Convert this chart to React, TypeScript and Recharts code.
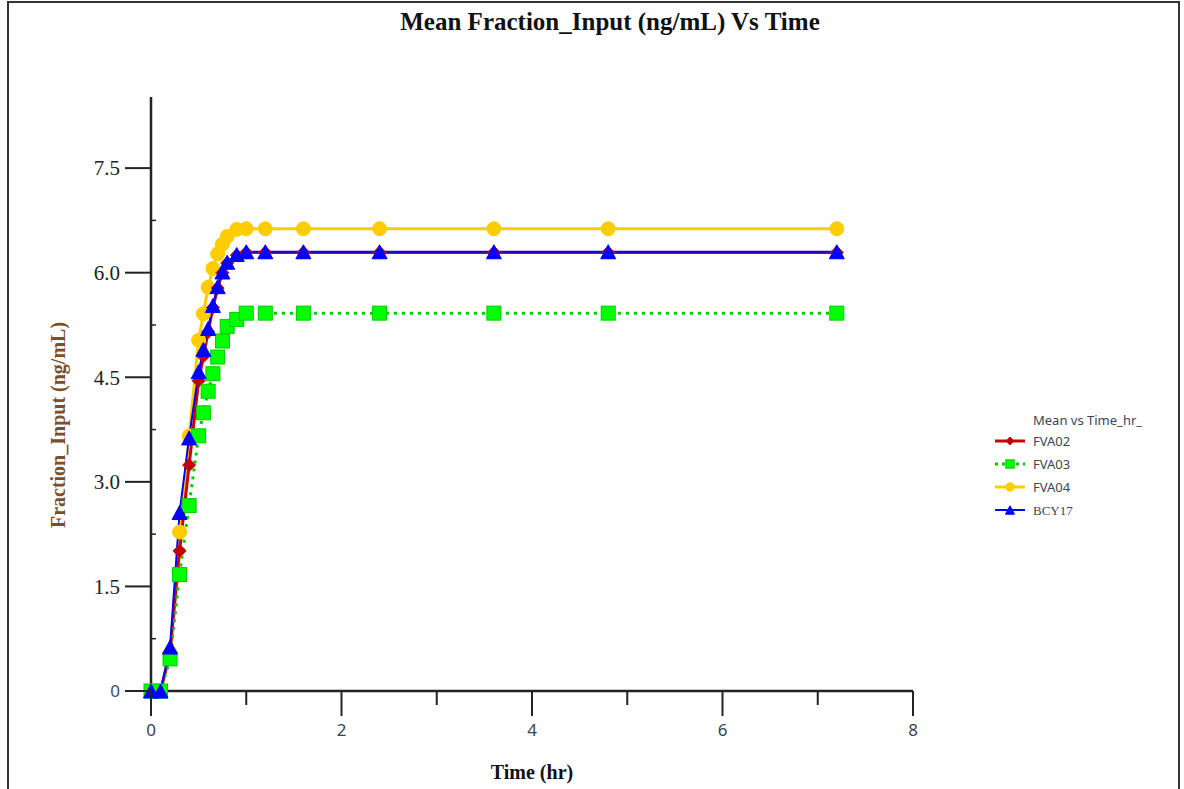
import React from 'react';
import { LineChart, Line, XAxis, YAxis, Legend } from 'recharts';

const times = [0, 0.1, 0.2, 0.3, 0.4, 0.5, 0.55, 0.6, 0.65, 0.7, 0.75, 0.8, 0.9, 1.0, 1.2, 1.6, 2.4, 3.6, 4.8, 7.2];
const fva02 = [0, 0, 0.55, 2.01, 3.24, 4.45, 4.8, 5.15, 5.5, 5.78, 6.0, 6.14, 6.25, 6.29, 6.29, 6.29, 6.29, 6.29, 6.29, 6.29];
const fva03 = [0, 0, 0.46, 1.67, 2.66, 3.66, 3.99, 4.3, 4.55, 4.79, 5.02, 5.23, 5.33, 5.42, 5.42, 5.42, 5.42, 5.42, 5.42, 5.42];
const fva04 = [0, 0, 0.54, 2.28, 3.66, 5.03, 5.41, 5.79, 6.06, 6.27, 6.41, 6.52, 6.62, 6.63, 6.63, 6.63, 6.63, 6.63, 6.63, 6.63];
const bcy17 = [0, 0, 0.63, 2.56, 3.63, 4.58, 4.9, 5.2, 5.53, 5.8, 6.01, 6.15, 6.26, 6.3, 6.3, 6.3, 6.3, 6.3, 6.3, 6.3];

const xTicks = [0, 1, 2, 3, 4, 5, 6, 7, 8];
const xMajorLabels = ['0', '', '2', '', '4', '', '6', '', '8'];
const yTicks = [0, 0.75, 1.5, 2.25, 3, 3.75, 4.5, 5.25, 6, 6.75, 7.5];
const yTickLabels = ['0', '', '1.5', '', '3.0', '', '4.5', '', '6.0', '', '7.5'];

const titleText = 'Mean Fraction_Input (ng/mL) Vs Time';
const xTitle = 'Time (hr)';
const yTitle = 'Fraction_Input (ng/mL)';
const legendTitle = 'Mean vs Time_hr_';

type SeriesCfg = { key: string; name: string; color: string; fill: string; shape: string; width: number; dash?: string; serif?: boolean };
const seriesCfg: SeriesCfg[] = [
  { key: 'fva02', name: 'FVA02', color: '#CC0000', fill: '#C00000', shape: 'diamond', width: 3 },
  { key: 'fva03', name: 'FVA03', color: '#00CC00', fill: '#00FF00', shape: 'square', width: 3, dash: '3 5' },
  { key: 'fva04', name: 'FVA04', color: '#FFCC00', fill: '#FFCC00', shape: 'circle', width: 3 },
  { key: 'bcy17', name: 'BCY17', color: '#0000FF', fill: '#0000FF', shape: 'triangle', width: 2, serif: true },
];

const data = times.map((t, i) => ({ t, fva02: fva02[i], fva03: fva03[i], fva04: fva04[i], bcy17: bcy17[i] }));

const Marker = ({ shape, cx, cy, fill, stroke, s = 1 }: any) => {
  if (cx == null || cy == null) return null;
  if (shape === 'diamond') {
    const r = 6.5 * s;
    return <polygon points={`${cx},${cy - r} ${cx + r},${cy} ${cx},${cy + r} ${cx - r},${cy}`} fill={fill} stroke={stroke} strokeWidth={1} />;
  }
  if (shape === 'square') {
    const r = 7 * s;
    return <rect x={cx - r} y={cy - r} width={2 * r} height={2 * r} fill={fill} stroke={stroke} strokeWidth={1} />;
  }
  if (shape === 'circle') {
    return <circle cx={cx} cy={cy} r={7 * s} fill={fill} stroke={stroke} strokeWidth={1} />;
  }
  const w = 7.5 * s;
  const h = 7 * s;
  return <polygon points={`${cx},${cy - h} ${cx + w},${cy + h} ${cx - w},${cy + h}`} fill={fill} stroke={stroke} strokeWidth={1} />;
};

const X_TICK = 25;
const X_MARGIN = 8;
const Y_TICK = 26;
const Y_MARGIN = 5;

const XTick = (props: any) => {
  const { x, y, index } = props;
  const axisY = y - X_TICK - X_MARGIN;
  const label = xMajorLabels[index];
  const major = label !== '';
  return (
    <g>
      <line x1={x} x2={x} y1={axisY} y2={axisY + (major ? X_TICK : 14)} stroke="#222" strokeWidth={2} />
      {major && (
        <text x={x} y={y} dy="0.71em" textAnchor="middle" fontFamily="'Noto Sans', sans-serif" fontSize={17} fill="#3a4252">
          {label}
        </text>
      )}
    </g>
  );
};

const YTick = (props: any) => {
  const { x, y, index } = props;
  const axisX = x + Y_TICK + Y_MARGIN;
  const label = yTickLabels[index];
  if (label === '') {
    return <line x1={axisX} x2={axisX + 5} y1={y} y2={y} stroke="#222" strokeWidth={1.5} />;
  }
  const isZero = label === '0';
  return (
    <g>
      <line x1={axisX - Y_TICK} x2={axisX} y1={y} y2={y} stroke="#222" strokeWidth={2} />
      <text
        x={x}
        y={y}
        dy="0.35em"
        textAnchor="end"
        fontFamily={isZero ? "'Noto Sans', sans-serif" : "'Liberation Serif', 'Times New Roman', serif"}
        fontSize={isZero ? 17 : 21}
        fill={isZero ? '#3a4a6a' : '#222'}
      >
        {label}
      </text>
    </g>
  );
};

const LegendBox = () => (
  <svg width={190} height={115} style={{ display: 'block' }}>
    <text x={43} y={12} dy="0.35em" fontFamily="'Noto Sans', sans-serif" fontSize={13} fill="#3c4656">
      {legendTitle}
    </text>
    {seriesCfg.map((s, i) => {
      const cy = 33 + i * 23;
      return (
        <g key={s.key}>
          <line x1={5} x2={35} y1={cy} y2={cy} stroke={s.color} strokeWidth={s.width} strokeDasharray={s.dash ? '3 4' : undefined} />
          <Marker shape={s.shape} cx={20} cy={cy} fill={s.fill} stroke={s.color} s={0.6} />
          <text
            x={43}
            y={cy}
            dy="0.35em"
            fontFamily={s.serif ? "'Liberation Serif', serif" : "'Noto Sans', sans-serif"}
            fontSize={13}
            fill="#3c4656"
          >
            {s.name}
          </text>
        </g>
      );
    })}
  </svg>
);

const drawOrder = ['fva04', 'fva02', 'fva03', 'bcy17'];

export default function App() {
  return (
    <div style={{ position: 'absolute', left: 0, top: 0, width: 1184, height: 789, background: '#fff', overflow: 'hidden' }}>
      <div style={{ position: 'absolute', left: 7, top: 1, width: 1173, height: 800, border: '2px solid #333', boxSizing: 'border-box' }} />
      <LineChart width={1184} height={789} data={data} margin={{ top: 97, right: 271, bottom: 0, left: 0 }}>
        <XAxis
          dataKey="t"
          type="number"
          domain={[0, 8]}
          ticks={xTicks}
          interval={0}
          height={98}
          tickSize={X_TICK}
          tickMargin={X_MARGIN}
          tickLine={false}
          tick={<XTick />}
          axisLine={{ stroke: '#222', strokeWidth: 2.5 }}
          label={{
            content: (p: any) => (
              <text
                x={p.viewBox.x + p.viewBox.width / 2}
                y={p.viewBox.y + 88}
                textAnchor="middle"
                fontFamily="'Liberation Serif', 'Times New Roman', serif"
                fontWeight="bold"
                fontSize={20}
                fill="#111"
              >
                {xTitle}
              </text>
            ),
          }}
        />
        <YAxis
          type="number"
          domain={[0, 8.52]}
          ticks={yTicks}
          interval={0}
          width={151}
          tickSize={Y_TICK}
          tickMargin={Y_MARGIN}
          tickLine={false}
          tick={<YTick />}
          axisLine={{ stroke: '#222', strokeWidth: 2.5 }}
          label={{
            content: (p: any) => {
              const cx = p.viewBox.x + 58;
              const cy = p.viewBox.y + 328;
              return (
                <text
                  x={cx}
                  y={cy}
                  transform={`rotate(-90 ${cx} ${cy})`}
                  dy="0.35em"
                  textAnchor="middle"
                  fontFamily="'Liberation Serif', 'Times New Roman', serif"
                  fontWeight="bold"
                  fontSize={20}
                  fill="#7a4f2a"
                >
                  {yTitle}
                </text>
              );
            },
          }}
        />
        <Legend
          layout="horizontal"
          verticalAlign="middle"
          align="center"
          content={() => <LegendBox />}
          wrapperStyle={{ left: 990, top: 408, width: 190, height: 115 }}
        />
        {drawOrder.map((k) => {
          const s = seriesCfg.find((c) => c.key === k)!;
          return (
            <Line
              key={s.key}
              dataKey={s.key}
              name={s.name}
              type="linear"
              stroke={s.color}
              strokeWidth={s.width}
              strokeDasharray={s.dash}
              isAnimationActive={false}
              dot={(p: any) => <Marker key={`${s.key}-${p.index}`} shape={s.shape} cx={p.cx} cy={p.cy} fill={s.fill} stroke={s.color} />}
              activeDot={false}
            />
          );
        })}
      </LineChart>
      <div
        style={{
          position: 'absolute',
          left: 610,
          top: 8,
          transform: 'translateX(-50%)',
          whiteSpace: 'nowrap',
          fontFamily: "'Liberation Serif', 'Times New Roman', serif",
          fontWeight: 'bold',
          fontSize: 25,
          lineHeight: '28px',
          color: '#111',
        }}
      >
        {titleText}
      </div>
    </div>
  );
}
